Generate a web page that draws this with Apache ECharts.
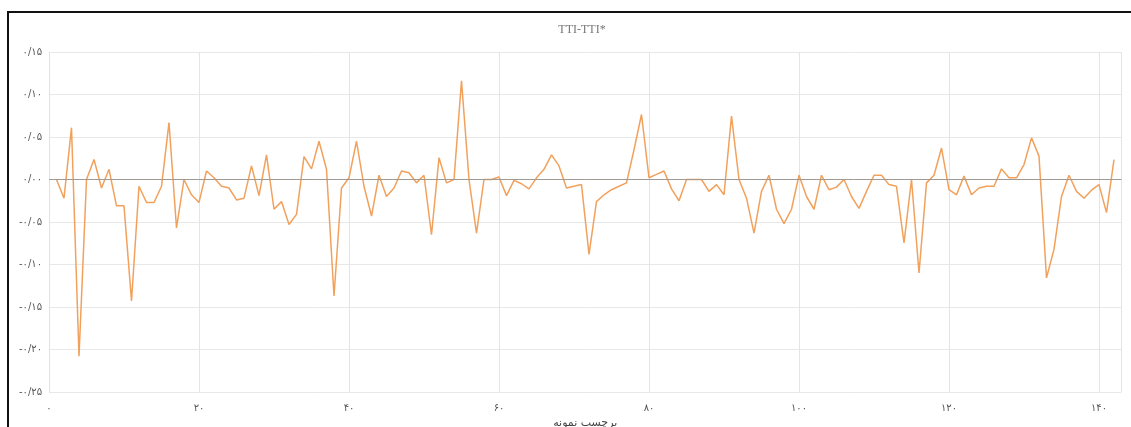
<!DOCTYPE html>
<html>
<head>
<meta charset="utf-8">
<script src="https://cdn.jsdelivr.net/npm/echarts@6/dist/echarts.min.js"></script>
<style>
  html, body { margin: 0; padding: 0; background: #fff; overflow: hidden; }
  #chart { position: absolute; left: 0; top: 0; width: 1131px; height: 427px; }
  #frame { position: absolute; left: 7px; top: 11px; width: 1200px; height: 500px;
           border-left: 2px solid #111; border-top: 2px solid #111; pointer-events: none; }
</style>
</head>
<body>
<div id="chart"></div>
<div id="frame"></div>
<script>
// Difference between TTI and TTI* for each sample (sample labels start at 1)
const diffValues = [
  0, -0.022, 0.061, -0.208, 0, 0.0235, -0.01, 0.012, -0.031, -0.031,
  -0.143, -0.008, -0.027, -0.027, -0.008, 0.067, -0.057, 0, -0.018, -0.027,
  0.01, 0.002, -0.008, -0.01, -0.024, -0.022, 0.016, -0.019, 0.029, -0.035,
  -0.026, -0.053, -0.041, 0.027, 0.0125, 0.045, 0.012, -0.137, -0.01, 0.002,
  0.045, -0.008, -0.043, 0.005, -0.02, -0.01, 0.01, 0.008, -0.004, 0.005,
  -0.065, 0.0255, -0.004, 0, 0.116, 0, -0.063, 0, 0, 0.003,
  -0.019, -0.001, -0.005, -0.011, 0.002, 0.012, 0.029, 0.016, -0.01, -0.008,
  -0.006, -0.088, -0.026, -0.018, -0.012, -0.008, -0.004, 0.035, 0.0765, 0.002,
  0.006, 0.01, -0.011, -0.025, 0, 0, 0, -0.014, -0.006, -0.018,
  0.0745, 0, -0.022, -0.063, -0.014, 0.005, -0.035, -0.052, -0.035, 0.005,
  -0.02, -0.035, 0.005, -0.012, -0.009, 0, -0.02, -0.034, -0.014, 0.005,
  0.005, -0.006, -0.008, -0.0745, 0, -0.11, -0.004, 0.005, 0.037, -0.012,
  -0.018, 0.004, -0.018, -0.01, -0.008, -0.008, 0.0125, 0.002, 0.002, 0.0176,
  0.049, 0.0275, -0.1157, -0.082, -0.02, 0.005, -0.014, -0.022, -0.0126, -0.006,
  -0.039, 0.0235
];
const sampleLabels = diffValues.map((_, i) => i + 1);

const chartTitle = 'TTI-TTI*';
const xAxisName = 'برچسب نمونه';
const xTicks = { min: 0, max: 143, interval: 20 };
const yTicks = { min: -0.25, max: 0.15, interval: 0.05 };

const faDigits = '۰۱۲۳۴۵۶۷۸۹';
function toPersian(str) {
  return String(str).replace(/[0-9]/g, d => faDigits[+d]).replace('.', '/');
}

const chart = echarts.init(document.getElementById('chart'), null, { renderer: 'canvas' });
chart.setOption({
  animation: false,
  backgroundColor: '#fff',
  textStyle: { fontFamily: 'DejaVu Sans' },
  title: {
    text: chartTitle,
    left: 577, top: 19, textAlign: 'center',
    textStyle: { fontSize: 12, fontWeight: 'normal', color: '#777', fontFamily: 'Liberation Serif' }
  },
  grid: { left: 49, right: 9.5, top: 52, bottom: 35, containLabel: false, outerBoundsMode: 'none' },
  xAxis: {
    type: 'value',
    min: xTicks.min, max: xTicks.max, interval: xTicks.interval,
    name: xAxisName, nameLocation: 'middle', nameGap: 22,
    nameTextStyle: { fontSize: 11, color: '#444' },
    axisLine: { show: false, onZero: false },
    axisTick: { show: false },
    axisLabel: { fontSize: 10, color: '#555', margin: 11, showMaxLabel: false, formatter: v => toPersian(v) },
    splitLine: { show: true, lineStyle: { color: '#e4e4e4', width: 1 } }
  },
  yAxis: {
    type: 'value',
    min: yTicks.min, max: yTicks.max, interval: yTicks.interval,
    axisLine: { show: true, lineStyle: { color: '#dde3ea' } },
    axisTick: { show: false },
    axisLabel: {
      fontSize: 10, color: '#555', margin: 7,
      formatter: v => (v < 0 ? '-' : '') + toPersian(Math.abs(v).toFixed(2))
    },
    splitLine: { show: true, lineStyle: { color: '#e8e8e8', width: 1 } }
  },
  series: [{
    type: 'line',
    data: sampleLabels.map((s, i) => [s, diffValues[i]]),
    showSymbol: false,
    lineStyle: { color: '#f2a15c', width: 1.5 },
    itemStyle: { color: '#f2a15c' },
    markLine: {
      silent: true, symbol: 'none', label: { show: false },
      lineStyle: { color: '#a09a94', width: 1, type: 'solid' },
      data: [{ yAxis: 0 }]
    }
  }]
});
</script>
</body>
</html>
